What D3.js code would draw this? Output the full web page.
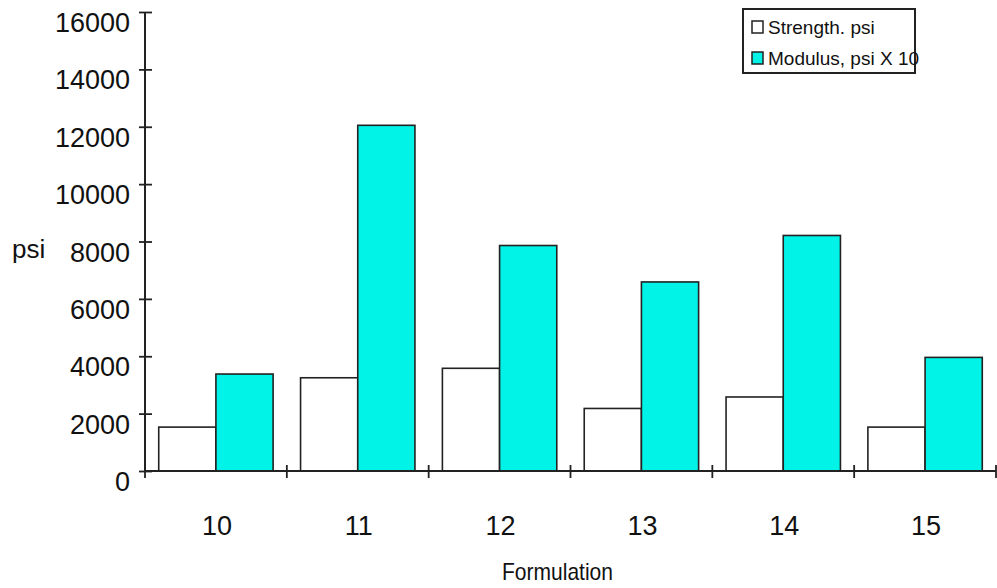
<!DOCTYPE html>
<html><head><meta charset="utf-8">
<script src="https://cdn.jsdelivr.net/npm/d3@7"></script>
<style>
html,body{margin:0;padding:0;background:#fff;}
svg text{font-family:"Liberation Sans",Arial,sans-serif;fill:#111;}
</style></head>
<body><svg id="c" width="997" height="588"></svg>
<script>
const categories = ["10","11","12","13","14","15"];
const seriesNames = ["Strength. psi","Modulus, psi X 10"];
const strength = [1530, 3250, 3580, 2180, 2580, 1530];
const modulus = [3380, 12050, 7860, 6590, 8210, 3960];
const yTicks = [0,2000,4000,6000,8000,10000,12000,14000,16000];
const colors = ["#ffffff","#00F3E6"];

const svg = d3.select("#c");
const plotL = 145, plotR = 996, plotT = 12, plotB = 471;
const x0 = d3.scaleBand().domain(categories).range([plotL, plotR]).paddingInner(0).paddingOuter(0);
const x1 = d3.scaleBand().domain(seriesNames).range([0, x0.bandwidth()]).paddingInner(0).paddingOuter(0.24);
const y = d3.scaleLinear().domain([0,16000]).range([plotB, plotT]);

const data = categories.map((c,i)=>({cat:c, vals:[strength[i], modulus[i]]}));

// bars
const g = svg.append("g");
data.forEach(d=>{
  d.vals.forEach((v,j)=>{
    g.append("rect")
      .attr("x", x0(d.cat)+x1(seriesNames[j]))
      .attr("y", y(v))
      .attr("width", x1.bandwidth())
      .attr("height", y(0)-y(v))
      .attr("fill", colors[j])
      .attr("stroke", "#222")
      .attr("stroke-width", 1.6);
  });
});

// y axis
const ya = svg.append("g").attr("transform",`translate(${plotL},0)`)
  .call(d3.axisLeft(y).tickValues(yTicks).tickFormat(d3.format("d")).tickSizeOuter(0));
ya.select(".domain").attr("stroke","#222").attr("stroke-width",2).attr("d",`M0,${plotT}V${plotB}`);
ya.selectAll(".tick line").attr("x1",-6).attr("x2",7).attr("stroke","#222").attr("stroke-width",1.8);
ya.selectAll(".tick text").attr("x",-15).attr("y",19.5).attr("dy",0)
  .style("font-size","27px").style("fill","#111");

// x axis
svg.append("line").attr("x1",plotL).attr("x2",plotR).attr("y1",plotB).attr("y2",plotB)
  .attr("stroke","#222").attr("stroke-width",2);
const bounds = categories.map(c=>x0(c)).concat([x0.range()[1]]);
svg.selectAll(".xt").data(bounds).enter().append("line")
  .attr("x1",d=>d).attr("x2",d=>d).attr("y1",plotB-6).attr("y2",plotB+7)
  .attr("stroke","#222").attr("stroke-width",1.8);
svg.selectAll(".xl").data(categories).enter().append("text")
  .attr("x",d=>x0(d)+x0.bandwidth()/2+1).attr("y",535)
  .attr("text-anchor","middle").style("font-size","27px").text(d=>d);

// axis titles
svg.append("text").attr("x",12).attr("y",258).style("font-size","26px").text("psi");
svg.append("text").attr("x",502).attr("y",580).style("font-size","24px")
  .attr("textLength",111).attr("lengthAdjust","spacingAndGlyphs").text("Formulation");

// legend
const lg = svg.append("g");
lg.append("rect").attr("x",743).attr("y",9).attr("width",172).attr("height",64)
  .attr("fill","#fff").attr("stroke","#222").attr("stroke-width",2);
seriesNames.forEach((s,i)=>{
  const yy = 21 + i*31;
  lg.append("rect").attr("x",752).attr("y",yy).attr("width",11).attr("height",12)
    .attr("fill",colors[i]).attr("stroke","#222").attr("stroke-width",1.5);
  lg.append("text").attr("x",768).attr("y",yy+12.5).style("font-size","19px").text(s);
});
</script></body></html>
